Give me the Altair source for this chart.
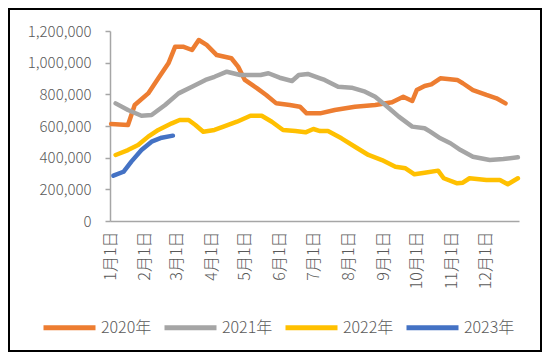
import altair as alt
import pandas as pd

# ---- data (day-of-year offset, value) ----
series_names = ["2020年", "2021年", "2022年", "2023年"]
series_colors = ["#ED7D31", "#A5A5A5", "#FFC000", "#4472C4"]

days_2020 = [1, 16, 22, 34, 43, 52, 58, 65, 73, 79, 86, 95, 108, 114, 120, 131, 139, 148,
             160, 169, 175, 187, 200, 218, 236, 251, 261, 269, 273, 280, 286, 294, 309,
             314, 323, 335, 344, 352]
vals_2020 = [613000, 606000, 733000, 806000, 901000, 996000, 1101000, 1101000, 1080000,
             1143000, 1112000, 1048000, 1028000, 975000, 891000, 838000, 796000, 743000,
             733000, 722000, 680000, 680000, 701000, 722000, 733000, 750000, 785000,
             758000, 827000, 853000, 863000, 901000, 891000, 870000, 827000, 796000,
             775000, 743000]

days_2021 = [5, 16, 28, 37, 49, 61, 73, 85, 93, 104, 116, 134, 141, 151, 162, 168, 176,
             187, 191, 203, 215, 227, 236, 245, 257, 269, 280, 285, 294, 303, 312, 323,
             338, 350, 363]
vals_2021 = [743000, 701000, 665000, 669000, 733000, 806000, 848000, 891000, 911000,
             943000, 922000, 922000, 933000, 905000, 884000, 922000, 929000, 901000,
             891000, 848000, 842000, 817000, 785000, 733000, 659000, 596000, 586000,
             564000, 522000, 491000, 448000, 406000, 385000, 392000, 402000]

days_2022 = [5, 16, 25, 34, 43, 55, 62, 70, 76, 83, 93, 101, 113, 125, 135, 144, 154, 165,
             174, 181, 187, 194, 206, 218, 230, 242, 254, 263, 271, 280, 292, 297, 309,
             314, 320, 335, 347, 354, 363]
vals_2022 = [417000, 448000, 480000, 533000, 575000, 617000, 638000, 638000, 606000,
             564000, 575000, 596000, 627000, 665000, 665000, 627000, 575000, 568000,
             560000, 581000, 568000, 568000, 522000, 469000, 417000, 385000, 343000,
             333000, 295000, 305000, 318000, 270000, 238000, 242000, 270000, 259000,
             259000, 232000, 270000]

days_2023 = [3, 12, 19, 28, 37, 46, 56]
vals_2023 = [286000, 311000, 375000, 448000, 501000, 526000, 539000]

y_ticks = [0, 200000, 400000, 600000, 800000, 1000000, 1200000]
months = list(range(1, 13))

# ---- build table ----
rows = []
base = pd.Timestamp("2021-01-01")
for name, ds, vs in zip(series_names,
                        [days_2020, days_2021, days_2022, days_2023],
                        [vals_2020, vals_2021, vals_2022, vals_2023]):
    for d, v in zip(ds, vs):
        t = base + pd.Timedelta(days=d)
        rows.append({"date": t.strftime("%Y-%m-%dT00:00:00"), "value": v, "series": name})
df = pd.DataFrame(rows)

FONT = "Noto Sans CJK SC"
GREY_TXT = "#595959"
AXIS_COL = "#A6A6A6"

lines = alt.Chart(df).mark_line(strokeWidth=4.5, strokeCap="round", strokeJoin="round").encode(
    x=alt.X("date:T",
            scale=alt.Scale(domain=[alt.DateTime(year=2021, month=1, date=1),
                                    alt.DateTime(year=2021, month=12, date=31)]),
            axis=alt.Axis(values=[alt.DateTime(year=2021, month=m, date=1) for m in months],
                          format="%-m月%-d日", formatType="time", labelAngle=270,
                          title=None, ticks=False, labelPadding=10, grid=False,
                          domainColor=AXIS_COL, domainWidth=1.5,
                          labelFont=FONT, labelFontSize=16, labelFontWeight=300,
                          labelColor=GREY_TXT, labelOverlap=False)),
    y=alt.Y("value:Q",
            scale=alt.Scale(domain=[0, 1200000], nice=False),
            axis=alt.Axis(values=y_ticks, format=",.0f", title=None, grid=False,
                          tickSize=5, tickColor=AXIS_COL, domainColor=AXIS_COL,
                          domainWidth=1.5, tickWidth=1.5, labelPadding=14,
                          labelFont=FONT, labelFontSize=15, labelFontWeight=300,
                          labelColor=GREY_TXT)),
    color=alt.Color("series:N",
                    scale=alt.Scale(domain=series_names, range=series_colors),
                    legend=alt.Legend(orient="none", legendX=-69, legendY=268,
                                      direction="horizontal", columns=4, title=None,
                                      symbolType="stroke", symbolSize=2704,
                                      symbolStrokeWidth=5, labelFont=FONT,
                                      labelFontSize=16, labelFontWeight=300,
                                      labelColor=GREY_TXT,
                                      labelOffset=3, columnPadding=2)),
    order=alt.Order("date:T"),
)

frame = alt.Chart(pd.DataFrame({"k": [0]})).mark_rect(
    filled=False, stroke="black", strokeWidth=2
).encode(
    x=alt.value(-101), x2=alt.value(431), y=alt.value(-22), y2=alt.value(320)
)

chart = alt.layer(lines, frame).properties(
    width=409, height=190,
    autosize=alt.AutoSizeParams(type="none"),
    padding={"left": 102, "top": 23, "right": 23, "bottom": 131},
).configure_view(stroke=None)

chart.save("out.html", embed_options={"renderer": "svg", "actions": False})
